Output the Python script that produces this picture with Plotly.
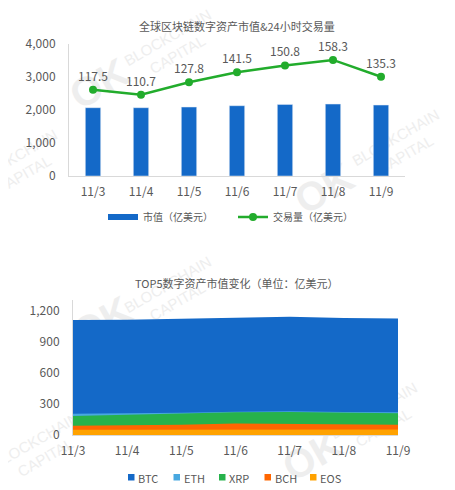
import plotly.graph_objects as go

# ---- data -----------------------------------------------------------------
dates = ["11/3", "11/4", "11/5", "11/6", "11/7", "11/8", "11/9"]

# top chart: total market cap (bars) and 24h volume (line), 亿美元
market_cap = [2070, 2070, 2090, 2130, 2170, 2180, 2150]
volume_24h = [117.5, 110.7, 127.8, 141.5, 150.8, 158.3, 135.3]

# bottom chart: top-5 asset market caps, 亿美元 (overlapping areas)
btc = [1108, 1110, 1120, 1126, 1138, 1127, 1122]
eth = [204, 208, 214, 224, 228, 222, 218]
xrp = [184, 195, 208, 220, 221, 212, 210]
bch = [90, 93, 98, 110, 108, 100, 98]
eos = [51, 52, 53, 56, 55, 53, 52]

top_title = "全球区块链数字资产市值&24小时交易量"
bottom_title = "TOP5数字资产市值变化（单位：亿美元）"

FONT = "Noto Sans CJK SC, Noto Sans, sans-serif"
TEXT = "#595959"
AXIS = "#d9d9d9"
BLUE = "#1469c8"
GREEN = "#22ac2c"
WM = "#eeeeee"

W, H = 455, 490
OFF = 8  # the page body adds an 8px margin round the figure


def px(x):
    """Window pixel x -> paper fraction."""
    return (x - OFF) / W


def py(y):
    """Window pixel y (from top) -> paper fraction."""
    return 1 - (y - OFF) / H


def _watermark(ok_xy=None, txt_xy=None):
    """Faint 'OK BLOCKCHAIN CAPITAL' stamp drawn beneath the data."""
    shapes = []
    if ok_xy:
        x, y = ok_xy
        shapes.append(dict(
            type="rect", xref="paper", yref="paper", layer="below",
            x0=px(x - 5), x1=px(x + 5), y0=py(y + 5), y1=py(y - 5),
            line=dict(width=0), fillcolor="rgba(0,0,0,0)",
            label=dict(text="<b>OK</b>", textangle=-30,
                       font=dict(size=40, color=WM, family="Arial")),
        ))
    if txt_xy:
        x, y = txt_xy
        shapes.append(dict(
            type="rect", xref="paper", yref="paper", layer="below",
            x0=px(x - 5), x1=px(x + 5), y0=py(y + 5), y1=py(y - 5),
            line=dict(width=0), fillcolor="rgba(0,0,0,0)",
            label=dict(text="BLOCKCHAIN<br>CAPITAL", textangle=-30,
                       font=dict(size=15, color=WM, family="Arial")),
        ))
    return shapes


fig = go.Figure()

# ---- top chart ------------------------------------------------------------
fig.add_trace(go.Bar(
    x=dates, y=market_cap, name="市值（亿美元）",
    marker=dict(color=BLUE), width=0.32, showlegend=False,
    xaxis="x", yaxis="y",
))
fig.add_trace(go.Scatter(
    x=dates, y=volume_24h, name="交易量（亿美元）",
    mode="lines+markers+text", text=[f"{v:.1f}" for v in volume_24h],
    textposition="top center", textfont=dict(size=12, color=TEXT),
    line=dict(color=GREEN, width=2.5), marker=dict(color=GREEN, size=8),
    cliponaxis=False, xaxis="x", yaxis="y2", legendrank=2,
))
# legend stand-in for the bars (flat wide swatch like the original)
fig.add_trace(go.Scatter(
    x=[None], y=[None], name="市值（亿美元）", mode="lines",
    line=dict(color=BLUE, width=6), xaxis="x", yaxis="y", legendrank=1,
))

# ---- bottom chart ---------------------------------------------------------
areas = [("BTC", btc, BLUE), ("ETH", eth, "#48a8e0"), ("XRP", xrp, "#27b24b"),
         ("BCH", bch, "#ff6600"), ("EOS", eos, "#ffa200")]
for name, vals, color in areas:
    fig.add_trace(go.Scatter(
        x=dates, y=vals, name=name, mode="lines", fill="tozeroy",
        line=dict(width=0, color=color), fillcolor=color,
        showlegend=False, xaxis="x3", yaxis="y3",
    ))

shapes = []
shapes += _watermark((97, 80), (172, 45))
shapes += _watermark((322, 185), (400, 145))
shapes += _watermark(None, (18, 165))
shapes += _watermark(None, (40, 448))
shapes += _watermark((310, 452), (378, 418))
shapes += _watermark((100, 318), (172, 292))

annotations = [
    dict(text=top_title, x=px(237), y=py(26), xref="paper", yref="paper",
         xanchor="center", yanchor="middle", showarrow=False,
         font=dict(size=11, color=TEXT)),
    dict(text=bottom_title, x=px(237), y=py(283), xref="paper",
         yref="paper", xanchor="center", yanchor="middle", showarrow=False,
         font=dict(size=11, color=TEXT)),
]

# compact legend for the area chart: small square + label
for i, (name, _, color) in enumerate(areas):
    x0 = 128 + i * 45.5
    shapes.append(dict(
        type="rect", xref="paper", yref="paper",
        x0=px(x0), x1=px(x0 + 6.5), y0=py(480.5), y1=py(474),
        line=dict(width=0), fillcolor=color,
    ))
    annotations.append(dict(
        text=name, x=px(x0 + 8), y=py(477.5), xref="paper", yref="paper",
        xanchor="left", yanchor="middle", showarrow=False,
        font=dict(size=11, color=TEXT),
    ))

fig.update_layout(
    width=W, height=H, autosize=False,
    margin=dict(l=0, r=0, t=0, b=0, pad=0, autoexpand=False),
    paper_bgcolor="white", plot_bgcolor="rgba(0,0,0,0)",
    font=dict(family=FONT, size=12, color=TEXT),
    shapes=shapes,
    annotations=annotations,
    xaxis=dict(
        domain=[px(69), px(405)], anchor="y", type="category",
        showline=True, linecolor=AXIS, linewidth=1, showgrid=False,
        ticks="", ticklabelstandoff=5, tickfont=dict(size=12, color=TEXT),
        automargin=False,
    ),
    yaxis=dict(
        domain=[py(176), py(44)], anchor="x", range=[0, 4000], dtick=1000,
        showline=True, linecolor=AXIS, linewidth=1, showgrid=False,
        zeroline=False, ticks="", tickformat=",d", ticklabelstandoff=10,
        tickfont=dict(size=12, color=TEXT), automargin=False,
    ),
    yaxis2=dict(
        overlaying="y", range=[0, 180], visible=False, showgrid=False,
    ),
    xaxis3=dict(
        domain=[px(73), px(398)], anchor="y3", type="category", range=[0, 6],
        showline=True, linecolor=AXIS, linewidth=1, showgrid=False,
        ticks="", ticklabelstandoff=5, tickfont=dict(size=12, color=TEXT),
        automargin=False,
    ),
    yaxis3=dict(
        domain=[py(435), py(300)], anchor="x3", range=[0, 1300],
        tickvals=[0, 300, 600, 900, 1200],
        showline=True, linecolor=AXIS, linewidth=1, showgrid=False,
        zeroline=False, ticks="", tickformat=",d", ticklabelstandoff=10,
        tickfont=dict(size=12, color=TEXT), automargin=False,
    ),
    legend=dict(
        orientation="h", x=px(103), y=py(217), xanchor="left",
        yanchor="middle", font=dict(size=10, color=TEXT), itemwidth=30,
        entrywidth=85, entrywidthmode="pixels",
        bgcolor="rgba(0,0,0,0)", traceorder="normal",
    ),
)

fig.write_html("out.html")
